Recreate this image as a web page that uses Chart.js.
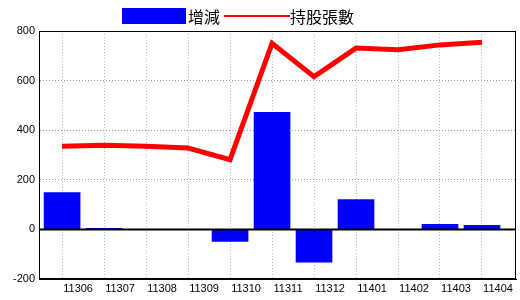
<!DOCTYPE html>
<html>
<head>
<meta charset="utf-8">
<script src="https://cdn.jsdelivr.net/npm/chart.js@4/dist/chart.umd.min.js"></script>
<style>
  body { margin: 0; background: #fff; }
  #wrap { position: relative; width: 520px; height: 300px; }
  #legend { position: absolute; left: 122px; top: 6px; display: flex; align-items: center;
            font-family: "Noto Sans CJK TC", sans-serif; font-size: 16px; line-height: 20px; color: #000; }
  #legend .box { width: 64px; height: 16px; background: #0000ff; margin-right: 2px; }
  #legend .ln { width: 66px; height: 2px; background: #ff0000; margin-left: 4px; }
</style>
</head>
<body>
<div id="wrap">
  <canvas id="myChart" width="520" height="300"></canvas>
  <div id="legend"><span class="box"></span><span>增減</span><span class="ln"></span><span>持股張數</span></div>
</div>
<script>
const labels = ['11306', '11307', '11308', '11309', '11310', '11311', '11312', '11401', '11402', '11403', '11404'];
const change = [148, 4, 0, 0, -48, 472, -132, 120, 0, 20, 16];
const holdings = [335, 339, 335, 328, 281, 750, 616, 731, 724, 744, 755];
const yTicks = [-200, 0, 200, 400, 600, 800];

const ctx = document.getElementById('myChart').getContext('2d');

// box round the plot and the solid zero line
const frame = {
  id: 'frame',
  afterDatasetsDraw(chart) {
    const a = chart.chartArea;
    const y0 = chart.scales.y.getPixelForValue(0);
    const c = chart.ctx;
    c.save();
    c.strokeStyle = '#000';
    c.lineWidth = 2;
    c.beginPath();
    c.moveTo(a.left, y0);
    c.lineTo(a.right, y0);
    c.stroke();
    c.lineWidth = 1;
    c.strokeRect(a.left + 0.5, a.top + 0.5, a.right - a.left - 1, a.bottom - a.top - 1);
    c.restore();
  }
};

var myChart = new Chart(ctx, {
  type: 'bar',
  data: {
    datasets: [{
      type: 'line',
      label: '持股張數',
      data: holdings.map((v, i) => ({ x: i, y: v })),
      borderColor: '#ff0000',
      borderWidth: 5,
      pointRadius: 0,
      tension: 0,
      order: 0
    }, {
      label: '增減',
      data: change.map((v, i) => ({ x: i, y: v })),
      backgroundColor: '#0000ff',
      barThickness: 36,
      order: 1
    }]
  },
  options: {
    responsive: false,
    animation: false,
    layout: { padding: { top: 31, right: 4, left: 0, bottom: 0 } },
    plugins: { legend: { display: false }, tooltip: { enabled: false } },
    scales: {
      x: {
        type: 'linear',
        offset: false,
        min: -0.55,
        max: 10.81,
        afterBuildTicks: s => { s.ticks = labels.map((_, i) => ({ value: i })); },
        afterFit: s => { s.height = 21; },
        grid: { offset: false, color: '#a8bfd0', drawTicks: false },
        border: { color: '#000', dash: [1, 2] },
        ticks: {
          callback: (v, i) => labels[i],
          labelOffset: 16,
          padding: 3,
          maxRotation: 0,
          autoSkip: false,
          color: '#000',
          font: { family: 'Liberation Sans', size: 11 }
        }
      },
      y: {
        min: -200,
        max: 800,
        afterBuildTicks: s => { s.ticks = yTicks.map(v => ({ value: v })); },
        afterFit: s => { s.width = 39; },
        grid: { color: '#999', drawTicks: false },
        border: { color: '#000', dash: [1, 2] },
        ticks: {
          padding: 4,
          color: '#000',
          font: { family: 'Liberation Sans', size: 11 }
        }
      }
    }
  },
  plugins: [frame]
});
</script>
</body>
</html>
